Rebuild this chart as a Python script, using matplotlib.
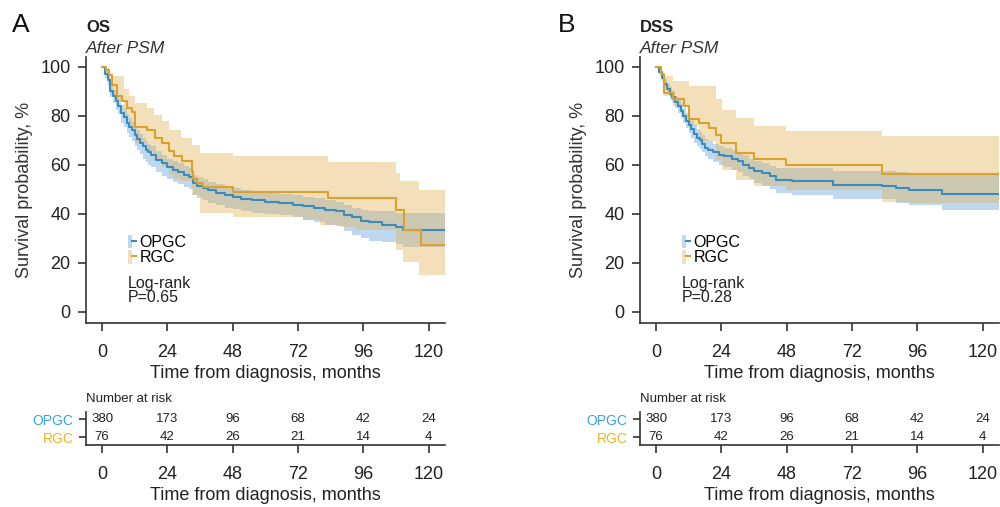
import matplotlib
matplotlib.use("Agg")
import matplotlib.pyplot as plt
from matplotlib.lines import Line2D
from matplotlib.patches import Patch
from matplotlib.legend_handler import HandlerTuple

plt.rcParams['font.family'] = ['Liberation Sans', 'DejaVu Sans']

# colours
BLUE_LINE = '#3a8cc0'
BLUE_FILL = '#7fb3e3'
GOLD_LINE = '#d9a22c'
GOLD_FILL = '#e4b35b'
AXIS_COLOR = '#333333'
OPGC_LABEL = '#3aa3e0'
RGC_LABEL = '#e9b523'

xticks = [0, 24, 48, 72, 96, 120]
yticks = [0, 20, 40, 60, 80, 100]
XMAX = 126
groups = ['OPGC', 'RGC']

# ---- OS, OPGC ----
os_opgc_t = [0, 1, 2, 3, 4, 5, 6, 7, 8, 9, 10, 11, 12, 13, 14, 15, 16, 17, 18, 20,
             22, 24, 26, 28, 30, 32, 33.5, 35, 37, 39, 42, 45, 48, 51, 55, 60, 65, 70,
             74, 78, 82, 86, 89, 92, 95, 98, 103, 108, 110.5]
os_opgc_s = [100, 97, 94.5, 90, 88, 86, 84, 81, 79.5, 77, 75.5, 74, 72, 70.5, 69, 67.5,
             66, 65, 64, 62, 60.5, 59, 58, 57, 56, 55, 52.5, 51.5, 50.5, 49.5, 48.5, 47.5,
             47, 46, 45.5, 45, 44.5, 43.5, 43, 42.5, 41.5, 41, 39.5, 38.5, 37, 36.5, 35.5,
             34.5, 33.5]
os_opgc_lo = [100, 95.5, 92.5, 87.5, 85, 82.5, 80.5, 77, 75.5, 73, 71.5, 69.5, 67.5, 66,
              64.5, 62.5, 61, 60, 59, 57, 55.5, 54, 53, 52, 51, 50, 47.5, 46.5, 45.5, 44.5,
              43.5, 42.5, 42, 41, 40.5, 40, 39.5, 38.5, 37.5, 36.5, 35.5, 35, 33, 31.5, 30,
              29, 28.5, 27.5, 26.5]
os_opgc_hi = [100, 98.5, 96.5, 92.5, 90.5, 89, 87, 84.5, 83, 80.5, 79, 77.5, 75.5, 74,
              72.5, 71, 69.5, 68.5, 67.5, 65.5, 64, 62.5, 61.5, 60.5, 59.5, 58.5, 56, 55,
              54, 53, 52, 51, 50.5, 49.5, 49, 48.5, 48, 47.5, 47, 46.5, 45.5, 45, 43.5,
              42.5, 41.5, 41, 41, 40.5, 40.5]

# ---- OS, RGC ----
os_rgc_t = [0, 1.5, 2.5, 3.5, 5.5, 7.5, 9, 11, 12, 16.5, 19.5, 22, 24.5, 26.5, 29.5, 33,
            33.5, 35, 37, 48.2, 83, 108.1, 111.1, 117.2]
os_rgc_s = [100, 98.5, 96.5, 92.5, 88, 86, 83, 81.5, 75.5, 74.3, 71, 69, 65.5, 63.5, 61.5,
            57.5, 54, 52.5, 51, 48.7, 46.4, 41.6, 33.4, 27.3]
os_rgc_ci_t = [0, 2, 3, 5.5, 8, 10, 12, 16.5, 19, 22, 24.5, 26.5, 29, 33, 36, 48.2, 74, 80,
               83, 87.3, 92.8, 108.1, 109.3, 110.6, 116.6]
os_rgc_hi = [100, 100, 96, 96, 91, 88, 85, 83, 80.4, 77.7, 74.3, 74.3, 71, 68, 64.9, 63.4,
             63.4, 63.4, 61.1, 61.1, 61.1, 56.6, 53.2, 53.2, 49.8]
os_rgc_lo = [100, 94, 89, 86, 80, 76, 69, 65.4, 62, 59.2, 56, 54, 53.2, 47.7, 40.5, 38.8,
             37.5, 35.5, 35.5, 34.7, 33.5, 25.3, 25.3, 20.5, 15.1]

# ---- DSS, OPGC ----
dss_opgc_t = [0, 1, 2, 3, 4, 5, 6, 7, 8, 9, 10, 11, 12, 13, 14, 15, 16, 17, 18, 19, 21,
              23, 25, 28, 30, 32, 34, 36, 39, 42, 44, 50, 65, 83, 88, 93, 105]
dss_opgc_s = [100, 98, 95.5, 93, 91, 89, 87.5, 85.5, 84, 82, 80, 78, 76, 74.5, 72.5, 71,
              70, 68.5, 67, 66, 65, 64, 63.4, 62.5, 61.5, 60, 58.5, 57.5, 56.5, 55.5, 53.6,
              53.2, 51.8, 51.2, 50.5, 49.5, 48.2]
dss_opgc_lo = [100, 97, 94, 91.5, 89, 86.5, 85, 83, 81, 79, 77, 75, 73, 71, 69, 67.5,
               66.5, 65, 63.5, 62.5, 61, 60, 59, 58, 57, 55.5, 54, 52.5, 51.5, 50, 48.4,
               47.7, 46, 46, 44.5, 43.7, 41.6]
dss_opgc_hi = [100, 99, 97, 95, 93, 91.5, 90, 88, 87, 85, 83, 81, 79, 78, 76, 74.5, 73.5,
               72, 70.5, 69.5, 68.5, 67.5, 67, 66, 65, 64, 62.5, 61.5, 60.5, 59.5, 58.5,
               58.5, 57.5, 57.3, 57, 56.5, 55.9]

# ---- DSS, RGC ----
dss_rgc_t = [0, 1.8, 3.1, 6.1, 10.4, 12.2, 15.9, 19.6, 22, 23.8, 29.3, 36, 47.7, 83.1]
dss_rgc_s = [100, 96.9, 89.4, 86.6, 84, 78.7, 77, 75, 72.3, 68.9, 64.8, 62.3, 60, 56.3]
dss_rgc_ci_t = [0, 3.1, 6.1, 12.2, 15.9, 22, 24.4, 29.3, 36, 47.7, 64.8, 83.1, 92.9]
dss_rgc_hi = [100, 96, 94, 92, 92, 86.6, 82.5, 79, 75.7, 73.7, 73.7, 71.6, 71.6]
dss_rgc_lo = [100, 88, 84, 75.7, 69.6, 62, 58, 53.9, 51.2, 49.8, 49.8, 45, 44.3]

# number at risk (same for both panels)
risk_opgc = [380, 173, 96, 68, 42, 24]
risk_rgc = [76, 42, 26, 21, 14, 4]

panels = [
    dict(letter='A', title='OS', pval='P=0.65', lx=0.012,
         opgc=(os_opgc_t, os_opgc_s, os_opgc_t, os_opgc_lo, os_opgc_hi),
         rgc=(os_rgc_t, os_rgc_s, os_rgc_ci_t, os_rgc_lo, os_rgc_hi)),
    dict(letter='B', title='DSS', pval='P=0.28', lx=0.558,
         opgc=(dss_opgc_t, dss_opgc_s, dss_opgc_t, dss_opgc_lo, dss_opgc_hi),
         rgc=(dss_rgc_t, dss_rgc_s, dss_rgc_ci_t, dss_rgc_lo, dss_rgc_hi)),
]


def ext(t, v):
    # carry the last value to the end of the axis
    return list(t) + [XMAX], list(v) + [v[-1]]


def draw_group(ax, data, line_c, fill_c, alpha):
    t, s, ci_t, lo, hi = data
    ct, clo = ext(ci_t, lo)
    _, chi = ext(ci_t, hi)
    ax.fill_between(ct, clo, chi, step='post', color=fill_c, alpha=alpha, lw=0)
    tt, ss = ext(t, s)
    ax.step(tt, ss, where='post', color=line_c, lw=1.5)


def style_axis(ax):
    for side in ['top', 'right']:
        ax.spines[side].set_visible(False)
    for side in ['left', 'bottom']:
        ax.spines[side].set_color(AXIS_COLOR)
        ax.spines[side].set_linewidth(1.2)
    ax.tick_params(direction='out', length=6, width=1.2, color=AXIS_COLOR,
                   labelcolor='#222222', labelsize=13)
    ax.tick_params(axis='x', pad=9)
    ax.tick_params(axis='y', pad=5)


fig = plt.figure(figsize=(10, 5.07), dpi=100)

for i, p in enumerate(panels):
    x0 = 0.086 + i * 0.554
    ax = fig.add_axes([x0, 0.363, 0.359, 0.525])
    tab = fig.add_axes([x0, 0.1223, 0.359, 0.065])

    draw_group(ax, p['opgc'], BLUE_LINE, BLUE_FILL, 0.5)
    draw_group(ax, p['rgc'], GOLD_LINE, GOLD_FILL, 0.42)

    ax.set_xlim(-5.9, XMAX)
    ax.set_ylim(-4.5, 104)
    ax.set_xticks(xticks)
    ax.set_yticks(yticks)
    style_axis(ax)
    ax.set_xticklabels([str(v) for v in xticks])
    ax.set_xlabel('Time from diagnosis, months', fontsize=13, color='#222222', labelpad=3)
    ax.set_ylabel('Survival probability, %', fontsize=13, color='#333333')
    ax.yaxis.set_label_coords(-0.147, 0.5)

    # legend: light CI patch with the line across it
    handles = [
        (Patch(facecolor=BLUE_FILL, alpha=0.5, lw=0), Line2D([], [], color=BLUE_LINE, lw=1.5)),
        (Patch(facecolor=GOLD_FILL, alpha=0.42, lw=0), Line2D([], [], color=GOLD_LINE, lw=1.5)),
    ]
    ax.legend(handles, groups, handler_map={tuple: HandlerTuple(ndivide=None)},
              loc='upper left', bbox_to_anchor=(0.118, 0.33), frameon=False,
              fontsize=11.5, handlelength=0.45, handleheight=0.9, handletextpad=0.25,
              labelspacing=0.0, borderpad=0, borderaxespad=0)
    ax.text(0.117, 0.178, 'Log-rank\n' + p['pval'], transform=ax.transAxes,
            fontsize=11.5, va='top', ha='left', linespacing=0.95, color='#222222')

    # titles
    ax.text(0.0, 1.094, p['title'], transform=ax.transAxes, fontsize=12,
            fontweight='bold', va='baseline', ha='left', color='#222222')
    ax.text(0.0, 1.016, 'After PSM', transform=ax.transAxes, fontsize=12.5,
            style='italic', va='baseline', ha='left', color='#333333')
    fig.text(p['lx'], 1 - 32 / 507, p['letter'], fontsize=19, va='baseline',
             ha='left', color='#111111')

    # number at risk table
    for j, v in enumerate(risk_opgc):
        tab.text(xticks[j], 1, str(v), ha='center', va='center', fontsize=9.5, color='#222222')
    for j, v in enumerate(risk_rgc):
        tab.text(xticks[j], 0, str(v), ha='center', va='center', fontsize=9.5, color='#222222')
    tab.set_xlim(-5.9, XMAX)
    tab.set_ylim(-0.43, 1.405)
    tab.set_xticks(xticks)
    tab.set_yticks([1, 0])
    style_axis(tab)
    tab.set_yticklabels(groups, fontsize=10)
    tab.tick_params(axis='y', length=5, pad=4)
    tab.get_yticklabels()[0].set_color(OPGC_LABEL)
    tab.get_yticklabels()[1].set_color(RGC_LABEL)
    tab.set_xlabel('Time from diagnosis, months', fontsize=13, color='#222222', labelpad=3)
    tab.text(0.0, 1.39, 'Number at risk', transform=tab.transAxes, fontsize=9.5,
             va='center', ha='left', color='#222222')

fig.savefig('out.png', dpi=100)
